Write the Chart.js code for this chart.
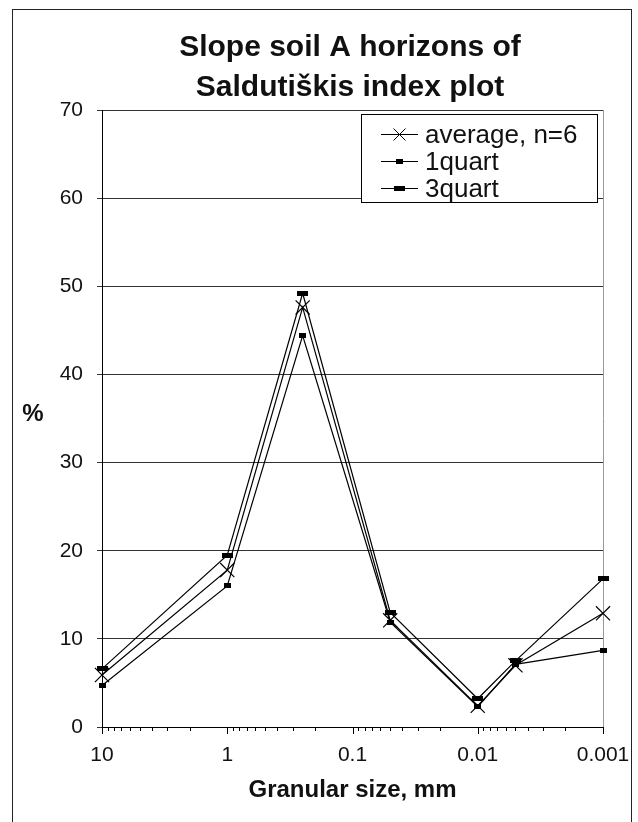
<!DOCTYPE html>
<html>
<head>
<meta charset="utf-8">
<script src="https://cdn.jsdelivr.net/npm/chart.js@4"></script>
<style>
  html, body { margin: 0; padding: 0; background: #fff; }
  #wrap { width: 638px; height: 822px; }
</style>
</head>
<body>
<div id="wrap"><canvas id="c" width="638" height="822"></canvas></div>
<script>
"use strict";

// granular size classes, mm
const sizes = [10, 1, 0.25, 0.05, 0.01, 0.005, 0.001];
const average = [5.9, 17.8, 47.6, 12.1, 2.4, 7.0, 12.9];
const quart1 = [4.7, 16.0, 44.4, 11.9, 2.3, 7.1, 8.7];
const quart3 = [6.6, 19.5, 49.2, 13.0, 3.2, 7.5, 16.8];

const seriesLabels = ['average, n=6', '1quart', '3quart'];
const titleLines = ['Slope soil A horizons of', 'Saldutiškis index plot'];
const xTitle = 'Granular size, mm';
const yTitle = '%';
const xMin = 0.001, xMax = 10;
const yMin = 0, yMax = 70, yStep = 10;

const FONT = "'Liberation Sans', Arial, Helvetica, sans-serif";

Chart.defaults.font.family = FONT;
Chart.defaults.color = '#111';

function boxMarker(w, h) {
    const c = document.createElement('canvas');
    c.width = w; c.height = h;
    const g = c.getContext('2d');
    g.fillStyle = '#000';
    g.fillRect(0, 0, w, h);
    return c;
}
const mark1 = boxMarker(7, 5);
const mark3 = boxMarker(11, 5);

function pts(arr) {
    return sizes.map((s, i) => ({ x: s, y: arr[i] }));
}

function isDecade(v) {
    const l = Math.log10(v);
    return Math.abs(l - Math.round(l)) < 1e-6;
}

// outer frame, title, "%" label, right frame line
const decorPlugin = {
    id: 'decor',
    beforeDraw(chart) {
        const ctx = chart.ctx;
        ctx.save();
        ctx.fillStyle = '#fff';
        ctx.fillRect(0, 0, chart.width, chart.height);
        ctx.strokeStyle = '#222';
        ctx.lineWidth = 1;
        ctx.strokeRect(12.5, 9.5, 619, 900);
        ctx.restore();
    },
    beforeDatasetsDraw(chart) {
        const ctx = chart.ctx, a = chart.chartArea;
        ctx.save();
        ctx.strokeStyle = '#999';
        ctx.lineWidth = 1;
        ctx.beginPath();
        ctx.moveTo(Math.round(a.right) + 0.5, a.top);
        ctx.lineTo(Math.round(a.right) + 0.5, a.bottom);
        ctx.stroke();
        ctx.restore();
    },
    afterDraw(chart) {
        const ctx = chart.ctx, a = chart.chartArea;
        ctx.save();
        ctx.fillStyle = '#111';
        ctx.textAlign = 'center';
        ctx.textBaseline = 'alphabetic';
        ctx.font = 'bold 30px ' + FONT;
        titleLines.forEach((t, i) => ctx.fillText(t, 350, 56 + i * 40));

        ctx.font = 'bold 24px ' + FONT;
        ctx.textBaseline = 'middle';
        ctx.fillText(yTitle, 33, 414);

        // x axis tick marks, longer on decades
        const xs = chart.scales.x;
        ctx.strokeStyle = '#000';
        ctx.lineWidth = 1;
        ctx.beginPath();
        xs.ticks.forEach(t => {
            const px = Math.round(xs.getPixelForValue(t.value)) + 0.5;
            const len = isDecade(t.value) ? 7 : 4;
            ctx.moveTo(px, a.bottom);
            ctx.lineTo(px, a.bottom + len);
        });
        ctx.stroke();
        ctx.restore();
    }
};

// legend box in upper right of the plot
const boxLegend = {
    id: 'boxLegend',
    afterDatasetsDraw(chart) {
        const ctx = chart.ctx, a = chart.chartArea;
        const left = a.right - 242, top = a.top + 4, right = a.right - 6, bottom = a.top + 92;
        ctx.save();
        ctx.fillStyle = '#fff';
        ctx.fillRect(left, top, right - left, bottom - top);
        ctx.strokeStyle = '#000';
        ctx.lineWidth = 1;
        ctx.strokeRect(Math.round(left) + 0.5, Math.round(top) + 0.5, Math.round(right - left), Math.round(bottom - top));
        ctx.font = '26px ' + FONT;
        ctx.textBaseline = 'middle';
        ctx.textAlign = 'left';
        ctx.fillStyle = '#111';
        chart.data.datasets.forEach((ds, i) => {
            const y = Math.round(top + 20 + i * 27) + 0.5;
            const x0 = left + 20, x1 = left + 57, xm = (x0 + x1) / 2;
            ctx.beginPath();
            ctx.moveTo(x0, y);
            ctx.lineTo(x1, y);
            ctx.stroke();
            if (ds.pointStyle === 'crossRot') {
                const r = 6;
                ctx.beginPath();
                ctx.moveTo(xm - r, y - r); ctx.lineTo(xm + r, y + r);
                ctx.moveTo(xm - r, y + r); ctx.lineTo(xm + r, y - r);
                ctx.stroke();
            } else {
                const img = ds.pointStyle;
                ctx.drawImage(img, Math.round(xm - img.width / 2), Math.round(y - img.height / 2));
            }
            ctx.fillText(ds.label, left + 64, y + 1);
        });
        ctx.restore();
    }
};

const lineBase = {
    borderColor: '#000',
    backgroundColor: '#000',
    borderWidth: 1.2,
    tension: 0,
    fill: false,
    clip: false
};

new Chart(document.getElementById('c').getContext('2d'), {
    type: 'line',
    data: {
        datasets: [
            Object.assign({}, lineBase, {
                label: seriesLabels[0], data: pts(average),
                pointStyle: 'crossRot', pointRadius: 10, pointBorderWidth: 1.2, pointBorderColor: '#000'
            }),
            Object.assign({}, lineBase, {
                label: seriesLabels[1], data: pts(quart1),
                pointStyle: mark1, pointRadius: 4
            }),
            Object.assign({}, lineBase, {
                label: seriesLabels[2], data: pts(quart3),
                pointStyle: mark3, pointRadius: 5
            })
        ]
    },
    options: {
        responsive: false,
        devicePixelRatio: 1,
        animation: false,
        layout: { padding: { top: 110, right: 35, left: 0, bottom: 0 } },
        plugins: {
            legend: { display: false },
            title: { display: false },
            tooltip: { enabled: false }
        },
        scales: {
            x: {
                type: 'logarithmic',
                position: 'bottom',
                min: xMin,
                max: xMax,
                reverse: true,
                grid: { display: false, drawTicks: false },
                border: { display: true, color: '#000', width: 1 },
                afterBuildTicks(scale) {
                    const t = [];
                    for (let e = -3; e <= 1; e++) {
                        for (let m = 1; m <= 9; m++) {
                            const v = Number((m * Math.pow(10, e)).toPrecision(3));
                            if (v >= xMin && v <= xMax) t.push({ value: v });
                        }
                    }
                    scale.ticks = t;
                },
                afterFit(scale) { scale.height = 95; },
                ticks: {
                    autoSkip: false,
                    maxRotation: 0,
                    padding: 16,
                    color: '#111',
                    font: { size: 21 },
                    callback(v) { return isDecade(v) ? String(Number(v.toPrecision(3))) : ''; }
                },
                title: {
                    display: true,
                    text: xTitle,
                    color: '#111',
                    font: { size: 24, weight: 'bold' },
                    padding: { top: 0, bottom: 17 }
                }
            },
            y: {
                min: yMin,
                max: yMax,
                grid: { color: '#333', lineWidth: 1, tickLength: 5, drawTicks: true },
                border: { display: true, color: '#000', width: 1 },
                afterFit(scale) { scale.width = 102; },
                ticks: {
                    stepSize: yStep,
                    padding: 14,
                    color: '#111',
                    font: { size: 21 }
                }
            }
        }
    },
    plugins: [decorPlugin, boxLegend]
});
</script>
</body>
</html>
